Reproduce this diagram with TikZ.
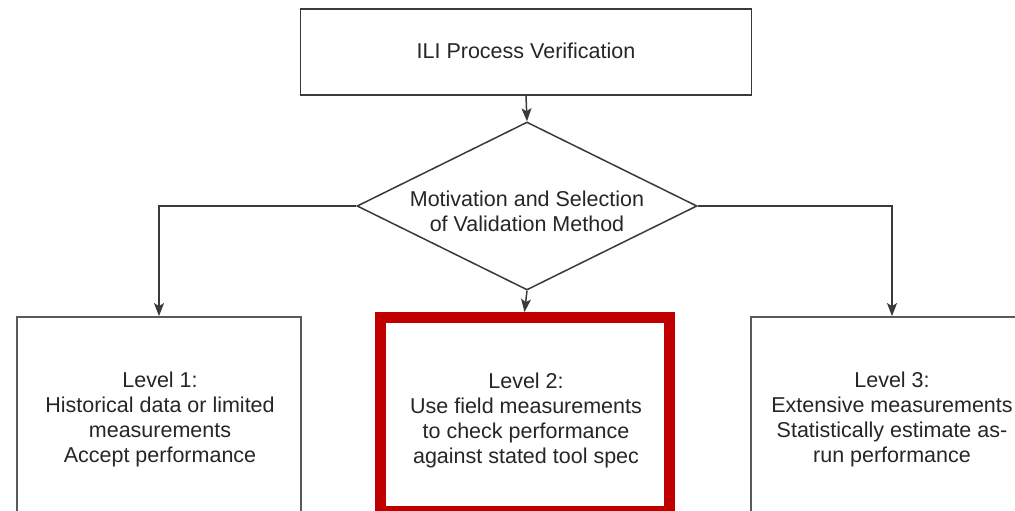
\documentclass[tikz,border=0pt]{standalone}
\usepackage{fontspec}
\setmainfont{Liberation Sans}
\usetikzlibrary{shapes.geometric,arrows.meta}
\definecolor{linegray}{HTML}{3A3A3A}
\definecolor{boxgray}{HTML}{5A5A5A}
\definecolor{txt}{HTML}{262626}
\definecolor{hred}{HTML}{C00000}
\tikzset{
  lbl/.style={align=center, text=txt, font=\fontsize{21.5}{25}\selectfont, inner sep=0pt},
  levelbox/.style={draw=boxgray, line width=1.8pt, rectangle, inner sep=0pt},
  arr/.style={draw=linegray, line width=1.5pt, -{Stealth[length=13pt,width=10pt,inset=3pt]}},
}
\begin{document}
\begin{tikzpicture}[x=1pt,y=-1pt]
\useasboundingbox (0,0) rectangle (1015,511);
\clip (0,0) rectangle (1015,511);
\fill[white] (0,0) rectangle (1015,511);
% top box
\node[draw=linegray, line width=1.5pt, rectangle, minimum width=451pt, minimum height=86pt, inner sep=0pt] (top) at (526,52) {};
\node[lbl] (toptxt) at (526,51) {ILI Process Verification};
% diamond
\node[draw=linegray, line width=1.5pt, diamond, minimum width=340pt, minimum height=168pt, inner sep=0pt] (dia) at (527,206) {};
\node[lbl] (diatxt) at (527,211) {Motivation and Selection\\of Validation Method};
% level boxes
\node[levelbox, minimum width=284pt, minimum height=204pt] (l1) at (159,419) {};
\node[lbl] (l1txt) at (160,419) {Level 1:\\Historical data or limited\\measurements\\Accept performance};
\node[draw=hred, line width=11pt, rectangle, inner sep=0pt, minimum width=289pt, minimum height=194pt] (l2) at (524.5,414.5) {};
\node[lbl] (l2txt) at (526,420) {Level 2:\\Use field measurements\\to check performance\\against stated tool spec};
\node[levelbox, minimum width=282pt, minimum height=204pt] (l3) at (892,419) {};
\node[lbl] (l3txt) at (892,419) {Level 3:\\Extensive measurements\\Statistically estimate as-\\run performance};
% connectors
\draw[arr] (top.south) -- (dia.north);
\draw[arr] (dia.west) -| (l1.north);
\draw[arr] (dia.east) -| (l3.north);
\draw[arr] (dia.south) -- (l2.north);
\end{tikzpicture}
\end{document}
